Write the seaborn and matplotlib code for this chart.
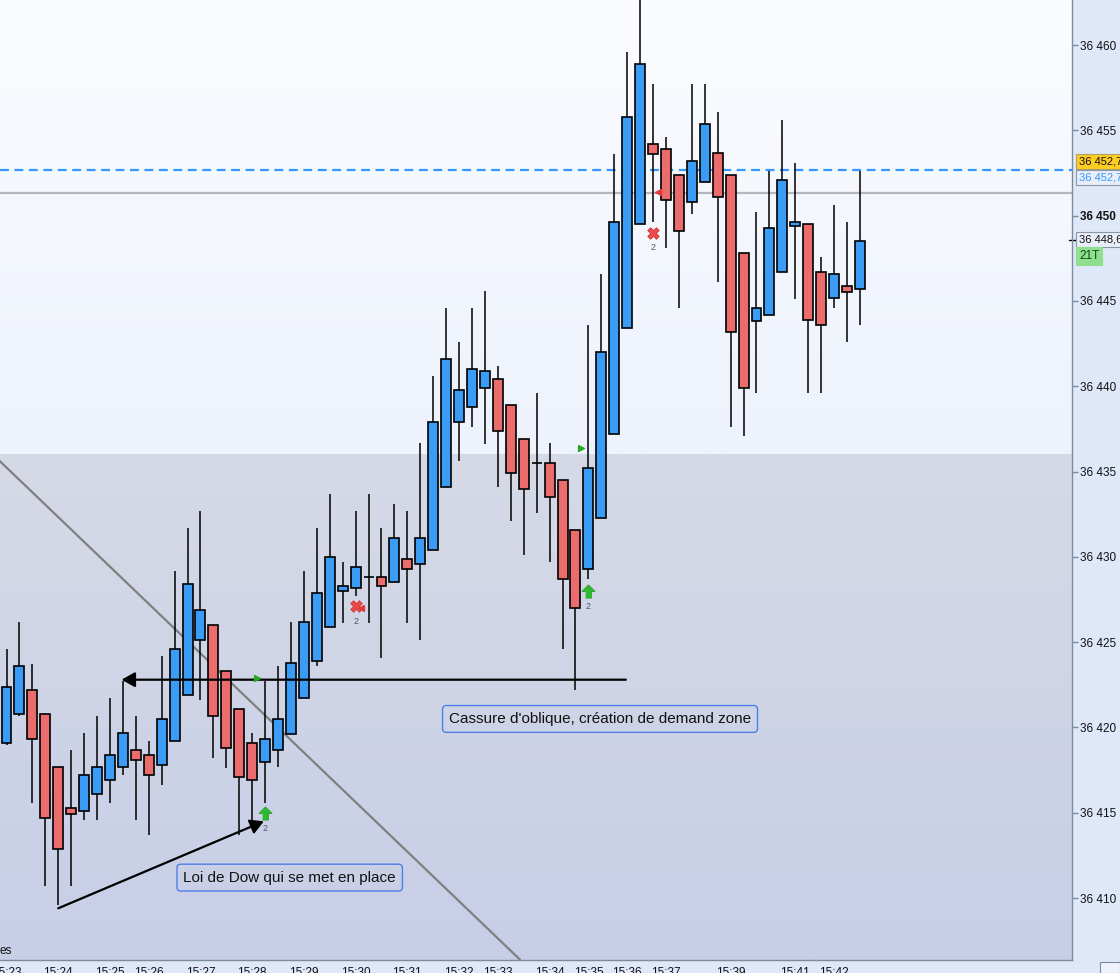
import numpy as np
import matplotlib.pyplot as plt
import matplotlib.transforms as mtransforms
from matplotlib.colors import LinearSegmentedColormap
from matplotlib.patches import Rectangle
import seaborn as sns

# 21-tick bars, OHLC
opens = [36419.1, 36420.8, 36422.2, 36420.8, 36417.7, 36415.3, 36415.1, 36416.1, 36416.9, 36417.7,
         36418.7, 36418.4, 36417.8, 36419.2, 36421.9, 36425.1, 36426.0, 36423.3, 36421.1, 36419.1,
         36418.0, 36418.7, 36419.6, 36421.7, 36423.9, 36425.9, 36428.0, 36428.2, 36428.8, 36428.8,
         36428.5, 36429.9, 36429.6, 36430.4, 36434.1, 36437.9, 36438.8, 36439.9, 36440.4, 36438.9,
         36436.9, 36435.5, 36435.5, 36434.5, 36431.6, 36429.3, 36432.3, 36437.2, 36443.4, 36449.5,
         36454.2, 36453.9, 36452.4, 36450.8, 36452.0, 36453.7, 36452.4, 36447.8, 36443.8, 36444.2,
         36446.7, 36449.4, 36449.5, 36446.7, 36445.2, 36445.9, 36445.7]
highs = [36424.6, 36426.2, 36423.7, 36420.8, 36417.7, 36418.7, 36419.7, 36420.7, 36421.7, 36422.7,
         36420.7, 36419.2, 36424.2, 36429.2, 36431.7, 36432.7, 36426.0, 36423.3, 36421.1, 36419.7,
         36422.7, 36423.6, 36426.2, 36429.2, 36431.7, 36433.7, 36429.7, 36432.7, 36433.7, 36431.7,
         36433.1, 36432.7, 36436.7, 36440.6, 36444.6, 36442.6, 36444.6, 36445.6, 36441.2, 36438.9,
         36436.9, 36439.6, 36436.7, 36434.5, 36431.6, 36443.6, 36446.6, 36453.6, 36459.6, 36464.0,
         36457.7, 36454.6, 36452.4, 36457.7, 36457.7, 36456.1, 36452.4, 36447.8, 36450.2, 36452.6,
         36455.6, 36453.1, 36449.5, 36447.6, 36450.6, 36449.6, 36452.6]
lows = [36419.0, 36420.7, 36415.6, 36410.7, 36409.6, 36410.7, 36414.6, 36414.6, 36415.6, 36417.2,
        36414.6, 36413.7, 36416.6, 36419.2, 36421.9, 36421.6, 36418.2, 36417.6, 36413.7, 36414.5,
        36415.6, 36417.7, 36419.6, 36421.7, 36423.6, 36425.9, 36426.1, 36427.7, 36426.1, 36424.1,
        36428.5, 36426.1, 36425.1, 36430.4, 36434.1, 36435.6, 36437.6, 36436.6, 36434.1, 36432.1,
        36430.1, 36432.6, 36429.7, 36424.6, 36422.2, 36428.7, 36432.3, 36437.2, 36443.4, 36449.5,
        36449.6, 36448.1, 36444.6, 36450.1, 36452.0, 36446.1, 36437.6, 36437.1, 36439.6, 36444.2,
        36446.7, 36445.1, 36439.6, 36439.6, 36444.6, 36442.6, 36443.6]
closes = [36422.4, 36423.6, 36419.3, 36414.7, 36412.9, 36414.9, 36417.2, 36417.7, 36418.4, 36419.7,
          36418.1, 36417.2, 36420.5, 36424.6, 36428.4, 36426.9, 36420.7, 36418.8, 36417.1, 36416.9,
          36419.3, 36420.5, 36423.8, 36426.2, 36427.9, 36430.0, 36428.3, 36429.4, 36428.8, 36428.3,
          36431.1, 36429.3, 36431.1, 36437.9, 36441.6, 36439.8, 36441.0, 36440.9, 36437.4, 36434.9,
          36434.0, 36435.5, 36433.5, 36428.7, 36427.0, 36435.2, 36442.0, 36449.6, 36455.8, 36458.9,
          36453.6, 36450.9, 36449.1, 36453.2, 36455.4, 36451.1, 36443.2, 36439.9, 36444.6, 36449.3,
          36452.1, 36449.6, 36443.9, 36443.6, 36446.6, 36445.5, 36448.5]

# time labels sit on bar indices
time_pos = [0, 4, 8, 11, 15, 19, 23, 27, 31, 35, 38, 42, 45, 48, 51, 53, 56, 58, 61, 64]
time_labels = ['15:23', '15:24', '15:25', '15:26', '15:27', '15:28', '15:29', '15:30', '15:31', '15:32',
               '15:33', '15:34', '15:35', '15:36', '15:37', '', '15:39', '', '15:41', '15:42']

price_ticks = [36410, 36415, 36420, 36425, 36430, 36435, 36440, 36445, 36450, 36455, 36460]
zone_top = 36436.0
level_blue = 36452.7
level_grey = 36451.3
last_price = 36448.6

# drawn objects: trendline, arrows, notes, signals
trend_x = [-0.5, 39.7]
trend_y = [36435.6, 36406.4]
break_arrow = [(47.9, 36422.8), (8.9, 36422.8)]
dow_arrow = [(4.0, 36409.4), (19.9, 36414.5)]
notes = [("Cassure d'oblique, création de demand zone", 45.9, 36420.5),
         ("Loi de Dow qui se met en place", 21.9, 36411.2)]
buy_x = [20, 45]
buy_y = [36415.0, 36428.0]
sell_x = [27, 50]
sell_y = [36427.1, 36449.0]
go_x = [19.4, 44.4]
go_y = [36422.9, 36436.4]
stop_x = [27.4, 50.4]
stop_y = [36427.0, 36451.4]

sns.set_style('white')
plt.rcParams['font.family'] = ['Liberation Sans', 'DejaVu Sans']

fig = plt.figure(figsize=(11.2, 9.73), dpi=100, facecolor='#dfe8f9')
ax = fig.add_axes([0, 13 / 973, 1072 / 1120, 960 / 973])
xlim = (-0.503, 82.4)
ylim = (36406.37, 36462.64)

# backgrounds
grad = np.linspace(0, 1, 256).reshape(-1, 1)
ax.imshow(grad, extent=(xlim[0], xlim[1], zone_top, ylim[1]), aspect='auto', origin='lower',
          cmap=LinearSegmentedColormap.from_list('sky', ['#edf2fc', '#fbfcff']), zorder=0)
ax.imshow(grad, extent=(xlim[0], xlim[1], ylim[0], zone_top), aspect='auto', origin='lower',
          cmap=LinearSegmentedColormap.from_list('zone', ['#c7cee6', '#d6dae7']), zorder=0)

o = np.array(opens)
c = np.array(closes)
x = np.arange(len(o))
up = c >= o
body_col = np.where(up, '#3a9cf5', '#ea6c6c')
height = np.maximum(np.abs(c - o), 0.01)

ax.vlines(x, lows, highs, color='black', linewidth=1.1, zorder=3)
ax.bar(x, height, bottom=np.minimum(o, c), width=0.77, color=body_col,
       edgecolor='black', linewidth=1.2, zorder=4)

# levels
ax.axhline(level_blue, color='#3399ff', linewidth=1.6, linestyle=(0, (4, 2.5)), zorder=2)
ax.axhline(level_grey, color='#b6b7bd', linewidth=1.6, zorder=2)

# trendline and arrows
ax.plot(trend_x, trend_y, color='#808080', linewidth=1.6, zorder=2)
for (xs, ys), (xe, ye) in [break_arrow, dow_arrow]:
    ax.annotate('', xy=(xe, ye), xytext=(xs, ys),
                arrowprops=dict(arrowstyle='-|>,head_length=0.8,head_width=0.45',
                                color='black', lw=1.6, shrinkA=0, shrinkB=0), zorder=6)

for txt, tx, ty in notes:
    ax.text(tx, ty, txt, ha='center', va='center', fontsize=11, color='#111111', zorder=7,
            bbox=dict(boxstyle='round,pad=0.42,rounding_size=0.25', fc='none', ec='#4d7fe8', lw=1.0))

# signals
arrow_m = [(-0.22, -0.5), (0.22, -0.5), (0.22, 0.0), (0.5, 0.0), (0.0, 0.5), (-0.5, 0.0), (-0.22, 0.0)]
ax.scatter(buy_x, buy_y, marker=arrow_m, s=90, c='#2dbb2d', edgecolors='#1a9a1a', linewidths=0.5, zorder=8)
ax.scatter(sell_x, sell_y, marker='X', s=70, c='#ea4a4a', edgecolors='#d03030', linewidths=0.5, zorder=8)
ax.scatter(go_x, go_y, marker='>', s=18, c='#22aa22', zorder=8)
ax.scatter(stop_x, stop_y, marker='<', s=18, c='#e03a3a', zorder=8)
for sx, sy in zip(buy_x + sell_x, buy_y + sell_y):
    ax.annotate('2', (sx, sy), xytext=(0, -11), textcoords='offset points', ha='center', va='center',
                fontsize=6.5, color='#505070', zorder=8)

ax.set_xlim(*xlim)
ax.set_ylim(*ylim)

# axes styling
for side in ['top', 'left']:
    ax.spines[side].set_visible(False)
for side in ['right', 'bottom']:
    ax.spines[side].set_color('#7d8c9b')
    ax.spines[side].set_linewidth(1.0)
ax.yaxis.tick_right()
ax.set_yticks(price_ticks)
ax.set_yticklabels([f'{v // 1000} {v % 1000:03d}' for v in price_ticks])
for lab, v in zip(ax.get_yticklabels(), price_ticks):
    if v == 36450:
        lab.set_fontweight('bold')
        lab.set_fontsize(9)
ax.tick_params(axis='y', length=4, width=1, color='#7d8c9b', pad=2, labelsize=8.5, labelcolor='#111111')
ax.set_xticks(time_pos)
ax.set_xticklabels(time_labels)
ax.tick_params(axis='x', length=3, width=1, color='#7d8c9b', pad=2, labelsize=8.5, labelcolor='#111111')
ax.grid(False)

# price tags on the right scale
tr = mtransforms.blended_transform_factory(ax.transAxes, ax.transData)
dx = 7 / 1072
tag = 8
ax.text(1 + dx, level_blue + 0.47, '36 452,7', transform=tr, fontsize=tag, va='center', ha='left',
        color='#111111', clip_on=False,
        bbox=dict(boxstyle='square,pad=0.25', fc='#ffcc22', ec='#b0a070', lw=0.8))
ax.text(1 + dx, level_blue - 0.47, '36 452,7', transform=tr, fontsize=tag, va='center', ha='left',
        color='#3399ff', clip_on=False,
        bbox=dict(boxstyle='square,pad=0.25', fc='#e9eef8', ec='#8a95a5', lw=0.8))
ax.text(1 + dx, last_price, '36 448,6', transform=tr, fontsize=tag, va='center', ha='left',
        color='#111111', clip_on=False,
        bbox=dict(boxstyle='square,pad=0.25', fc='#e9eef8', ec='#8a95a5', lw=0.8))
ax.text(1 + dx, last_price - 0.97, '21T', transform=tr, fontsize=8.5, va='center', ha='left',
        color='#114411', clip_on=False,
        bbox=dict(boxstyle='square,pad=0.22', fc='#8ee08e', ec='#8ee08e', lw=0.8))
ax.plot([1 - 3 / 1072, 1 + 6 / 1072], [last_price, last_price], transform=tr, color='black',
        lw=1.0, clip_on=False)

ax.text(0.0, 3 / 960, 'es', transform=ax.transAxes, fontsize=8.5, va='bottom', ha='left', color='#111111')
fig.patches.append(Rectangle((1100 / 1120, 0), 20 / 1120, 11 / 973, transform=fig.transFigure,
                             fc='#eef2fa', ec='#7d8c9b', lw=0.8))

fig.savefig('out.png', dpi=100, facecolor=fig.get_facecolor())
